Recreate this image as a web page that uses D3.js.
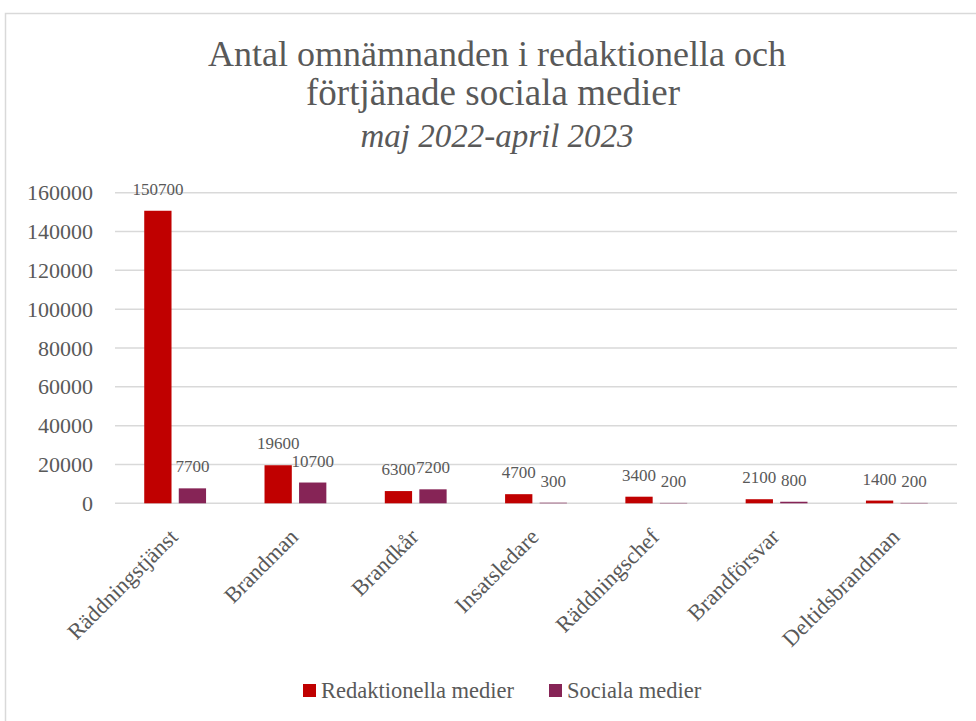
<!DOCTYPE html>
<html><head><meta charset="utf-8">
<script src="https://cdn.jsdelivr.net/npm/d3@7"></script>
<style>body{margin:0;background:#fff}svg{display:block}text{font-family:"Liberation Serif",serif;fill:#595959}</style>
</head><body>
<svg id="c" width="976" height="721"></svg>
<script>
const categories = ["Räddningstjänst","Brandman","Brandkår","Insatsledare","Räddningschef","Brandförsvar","Deltidsbrandman"];
const seriesNames = ["Redaktionella medier","Sociala medier"];
const redaktionella = [150700,19600,6300,4700,3400,2100,1400];
const sociala = [7700,10700,7200,300,200,800,200];
const yTicks = [0,20000,40000,60000,80000,100000,120000,140000,160000];
const colors = ["#C00000","#862456"];
const titleLines = ["Antal omnämnanden i redaktionella och","förtjänade sociala medier"];
const subtitle = "maj 2022-april 2023";

const svg = d3.select("#c");
svg.append("rect").attr("x",5.5).attr("y",13.5).attr("width",1000).attr("height",1000)
  .attr("fill","#fff").attr("stroke","#d9d9d9").attr("stroke-width",1.5);

const pLeft=115, pRight=957, pTop=192.7, pBottom=503.3;
const x0 = d3.scaleBand().domain(categories).range([pLeft,pRight]).paddingInner(0.486).paddingOuter(0.243);
const x1 = d3.scaleBand().domain(seriesNames).range([0,x0.bandwidth()]).paddingInner(0.21);
const y = d3.scaleLinear().domain([0,160000]).range([pBottom,pTop]);

// title
const cx = 497;
svg.append("text").attr("x",cx).attr("y",66).attr("text-anchor","middle").style("font-size","36px").text(titleLines[0]);
svg.append("text").attr("x",cx-4).attr("y",105).attr("text-anchor","middle").style("font-size","37px").text(titleLines[1]);
svg.append("text").attr("x",cx).attr("y",147).attr("text-anchor","middle").style("font-size","33px").style("font-style","italic").text(subtitle);

// gridlines
svg.append("g").selectAll("line").data(yTicks).join("line")
  .attr("x1",pLeft).attr("x2",pRight).attr("y1",d=>y(d)).attr("y2",d=>y(d))
  .attr("stroke","#d9d9d9").attr("stroke-width",1.5);

// y axis
const yAxis = d3.axisLeft(y).tickValues(yTicks).tickFormat(d3.format("d")).tickSize(0).tickPadding(22);
const ya = svg.append("g").attr("transform",`translate(${pLeft},0)`).call(yAxis);
ya.attr("font-family",null);
ya.select(".domain").remove();
ya.selectAll("text").style("font-size","22px").style("font-family","'Liberation Serif', serif").attr("fill","#595959");

// bars
const data = categories.map((c,i)=>({cat:c, vals:[{s:seriesNames[0],v:redaktionella[i],c:colors[0]},{s:seriesNames[1],v:sociala[i],c:colors[1]}]}));
const g = svg.append("g").selectAll("g").data(data).join("g").attr("transform",d=>`translate(${x0(d.cat)},0)`);
g.selectAll("rect").data(d=>d.vals).join("rect")
  .attr("x",d=>x1(d.s)).attr("width",x1.bandwidth())
  .attr("y",d=>y(d.v)).attr("height",d=>pBottom-y(d.v)).attr("fill",d=>d.c);
g.selectAll("text").data(d=>d.vals).join("text")
  .attr("x",d=>x1(d.s)+x1.bandwidth()/2).attr("y",d=>y(d.v)-16)
  .attr("text-anchor","middle").style("font-size","17px").attr("fill","#404040").text(d=>d.v);

// x axis labels
const xAxis = d3.axisBottom(x0).tickSize(0).tickPadding(0);
const xa = svg.append("g").attr("transform",`translate(0,${pBottom})`).call(xAxis);
xa.attr("font-family",null);
xa.select(".domain").remove();
xa.selectAll("text").attr("text-anchor","end").attr("dy",null).attr("y",0)
  .attr("transform","translate(4,35) rotate(-45)")
  .style("font-size","22.5px").style("font-family","'Liberation Serif', serif").attr("fill","#595959");

// legend
const legend = [{n:seriesNames[0],c:colors[0],x:303},{n:seriesNames[1],c:colors[1],x:549}];
const lg = svg.append("g").selectAll("g").data(legend).join("g").attr("transform",d=>`translate(${d.x},684)`);
lg.append("rect").attr("width",13).attr("height",13).attr("fill",d=>d.c);
lg.append("text").attr("x",18).attr("y",13.5).style("font-size","22.5px").text(d=>d.n);
</script>
</body></html>
